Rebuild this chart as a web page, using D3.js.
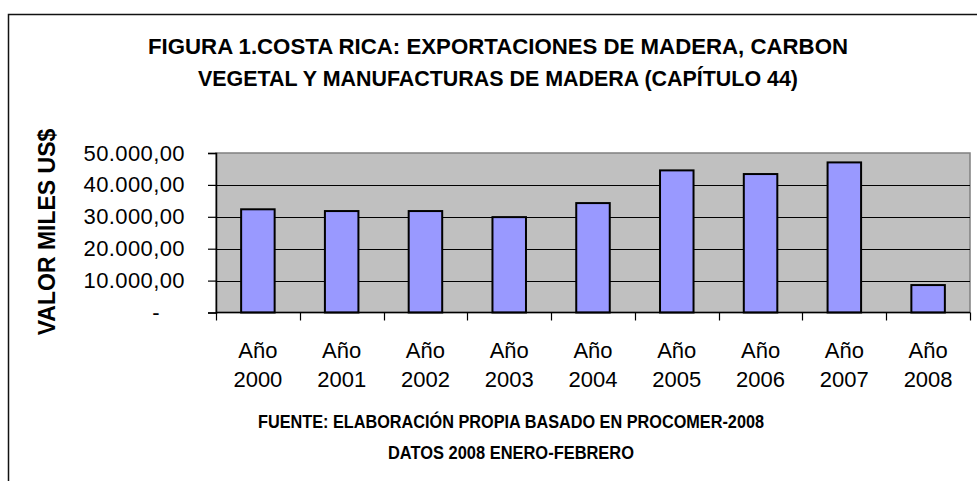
<!DOCTYPE html>
<html>
<head>
<meta charset="utf-8">
<script src="https://cdn.jsdelivr.net/npm/d3@7"></script>
<style>
    html, body { margin: 0; padding: 0; background: #fff; }
    svg { display: block; font-family: "Liberation Sans", Arial, sans-serif; }
</style>
</head>
<body>
<div id="chart"></div>
<script>
// Datos (miles US$)
const years = ['2000', '2001', '2002', '2003', '2004', '2005', '2006', '2007', '2008'];
const values = [32350, 31800, 31800, 29900, 34300, 44550, 43400, 47050, 8600];
const yTicks = [0, 10000, 20000, 30000, 40000, 50000];
const titleLines = [
    'FIGURA 1.COSTA RICA: EXPORTACIONES DE MADERA, CARBON',
    'VEGETAL Y MANUFACTURAS DE MADERA (CAPÍTULO 44)'
];
const footerLines = [
    'FUENTE: ELABORACIÓN PROPIA BASADO EN PROCOMER-2008',
    'DATOS 2008 ENERO-FEBRERO'
];
const yTitle = 'VALOR MILES US$';

const width = 977, height = 481;
const plot = { left: 216, right: 970, top: 153, bottom: 312.5 };

const svg = d3.select('#chart').append('svg')
    .attr('width', width)
    .attr('height', height);

// Marco exterior
svg.append('path')
    .attr('d', `M8.5,${height} V14.5 H${width}`)
    .attr('fill', 'none')
    .attr('stroke', '#111')
    .attr('stroke-width', 1.5);

// Escalas
const x = d3.scaleBand()
    .domain(years)
    .range([plot.left, plot.right])
    .paddingInner(0.6)
    .paddingOuter(0.3);

const y = d3.scaleLinear()
    .domain([0, 50000])
    .range([plot.bottom, plot.top]);

// Fondo del área de trazado
svg.append('rect')
    .attr('x', plot.left)
    .attr('y', plot.top)
    .attr('width', plot.right - plot.left)
    .attr('height', plot.bottom - plot.top)
    .attr('fill', '#c0c0c0')
    .attr('stroke', '#808080')
    .attr('stroke-width', 1.5);

// Líneas de división
svg.append('g')
    .selectAll('line')
    .data(yTicks.filter(d => d > 0 && d < 50000))
    .enter()
    .append('line')
    .attr('x1', plot.left)
    .attr('x2', plot.right)
    .attr('y1', d => Math.round(y(d)) + 0.5)
    .attr('y2', d => Math.round(y(d)) + 0.5)
    .attr('stroke', '#000')
    .attr('stroke-width', 1);

// Barras
svg.append('g')
    .selectAll('rect')
    .data(years.map((yr, i) => ({ year: yr, value: values[i] })))
    .enter()
    .append('rect')
    .attr('x', d => x(d.year))
    .attr('y', d => y(d.value))
    .attr('width', x.bandwidth())
    .attr('height', d => y(0) - y(d.value))
    .attr('fill', '#9999ff')
    .attr('stroke', '#000')
    .attr('stroke-width', 2);

// Eje Y
const fmt = d => d === 0 ? '-' : d3.format(',.2f')(d).replace(/,/g, 'X').replace('.', ',').replace(/X/g, '.');
const yAxis = svg.append('g')
    .attr('transform', `translate(${plot.left},0)`)
    .call(d3.axisLeft(y).tickValues(yTicks).tickSize(8).tickPadding(23).tickFormat(fmt));
yAxis.select('.domain').attr('stroke', '#000').attr('stroke-width', 1.5);
yAxis.selectAll('.tick line').attr('stroke', '#000').attr('stroke-width', 1.2);
yAxis.selectAll('text')
    .attr('fill', '#000')
    .style('font-size', '22px')
    .style('letter-spacing', '0.4px')
    .attr('dx', d => d === 0 ? -25 : 0);

// Eje X
svg.append('line')
    .attr('x1', plot.left)
    .attr('x2', plot.right)
    .attr('y1', plot.bottom)
    .attr('y2', plot.bottom)
    .attr('stroke', '#000')
    .attr('stroke-width', 1.5);

svg.append('g')
    .selectAll('line')
    .data(d3.range(years.length + 1))
    .enter()
    .append('line')
    .attr('x1', i => Math.round(plot.left + i * x.step()) + 0.5)
    .attr('x2', i => Math.round(plot.left + i * x.step()) + 0.5)
    .attr('y1', plot.bottom)
    .attr('y2', plot.bottom + 8)
    .attr('stroke', '#000')
    .attr('stroke-width', 1.2);

const xLabels = svg.append('g')
    .selectAll('text')
    .data(years)
    .enter()
    .append('text')
    .attr('x', d => x(d) + x.bandwidth() / 2)
    .attr('text-anchor', 'middle')
    .style('font-size', '22px')
    .attr('fill', '#000');
xLabels.append('tspan').attr('x', d => x(d) + x.bandwidth() / 2).attr('y', 358).text('Año');
xLabels.append('tspan').attr('x', d => x(d) + x.bandwidth() / 2).attr('y', 387).text(d => d);

// Título del eje Y
svg.append('text')
    .attr('transform', 'rotate(-90)')
    .attr('x', -232)
    .attr('y', 55)
    .attr('text-anchor', 'middle')
    .style('font-size', '23px')
    .style('font-weight', 'bold')
    .text(yTitle);

// Título
const titleWidths = [700, 600];
svg.append('g')
    .selectAll('text')
    .data(titleLines)
    .enter()
    .append('text')
    .attr('x', 498)
    .attr('y', (d, i) => 54 + i * 32)
    .attr('text-anchor', 'middle')
    .attr('textLength', (d, i) => titleWidths[i])
    .attr('lengthAdjust', 'spacingAndGlyphs')
    .style('font-size', '21.5px')
    .style('font-weight', 'bold')
    .text(d => d);

// Fuente
const footerWidths = [506, 246];
svg.append('g')
    .selectAll('text')
    .data(footerLines)
    .enter()
    .append('text')
    .attr('x', 511)
    .attr('y', (d, i) => 428 + i * 31)
    .attr('text-anchor', 'middle')
    .attr('textLength', (d, i) => footerWidths[i])
    .attr('lengthAdjust', 'spacingAndGlyphs')
    .style('font-size', '19px')
    .style('font-weight', 'bold')
    .text(d => d);
</script>
</body>
</html>
